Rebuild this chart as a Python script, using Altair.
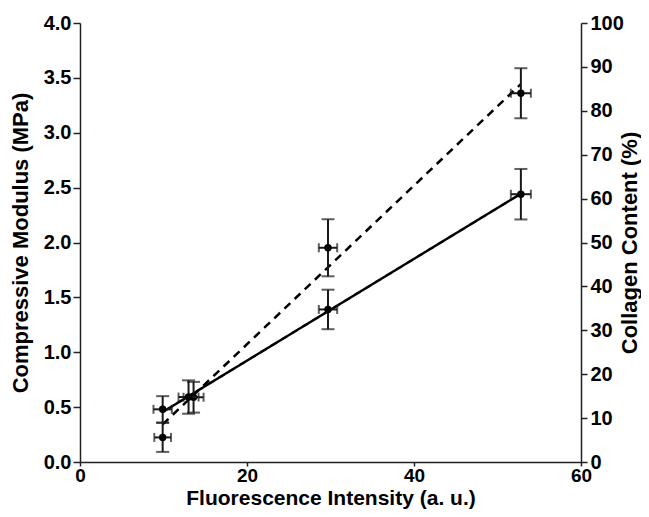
import altair as alt
import pandas as pd

# Compressive modulus series (solid line, left axis)
fluor_mod = [9.9, 13.6, 29.7, 52.8]
fluor_mod_err = [1.1, 1.2, 1.1, 1.2]
modulus = [0.48, 0.59, 1.39, 2.44]
modulus_err = [0.12, 0.14, 0.18, 0.23]

# Collagen content series (dashed line, right axis)
fluor_col = [9.9, 13.0, 29.7, 52.8]
fluor_col_err = [1.0, 1.2, 1.1, 1.2]
collagen = [5.6, 14.8, 48.8, 84.0]
collagen_err = [3.3, 3.8, 6.5, 5.7]

x_ticks = [0, 20, 40, 60]
left_ticks = [0.0, 0.5, 1.0, 1.5, 2.0, 2.5, 3.0, 3.5, 4.0]
right_ticks = [0, 10, 20, 30, 40, 50, 60, 70, 80, 90, 100]


def make_df(x, xe, y, ye):
    df = pd.DataFrame({"x": x, "xerr": xe, "y": y, "yerr": ye})
    df["xlo"] = df["x"] - df["xerr"]
    df["xhi"] = df["x"] + df["xerr"]
    df["ylo"] = df["y"] - df["yerr"]
    df["yhi"] = df["y"] + df["yerr"]
    return df


mod_df = make_df(fluor_mod, fluor_mod_err, modulus, modulus_err)
col_df = make_df(fluor_col, fluor_col_err, collagen, collagen_err)

x_scale = alt.Scale(domain=[0, 60], nice=False, zero=False)
x_axis = alt.Axis(values=x_ticks, title="Fluorescence Intensity (a. u.)", tickSize=4,
                  labelPadding=0, labelFontSize=19, format="d", titleBaseline="alphabetic",
                  titleY=42.5, titleFontSize=21)


def group(df, y_scale, y_axis, ytitle, dash):
    base = alt.Chart(df)
    X = alt.X("x:Q", scale=x_scale, axis=x_axis)
    Y = alt.Y("y:Q", scale=y_scale, axis=y_axis, title=ytitle)
    line = base.transform_regression("x", "y").mark_line(
        color="black", strokeWidth=2.5, strokeDash=dash
    ).encode(x=X, y=Y)
    vbar = base.mark_rule(color="#1a1a1a", strokeWidth=2).encode(
        x=alt.X("x:Q", scale=x_scale, axis=x_axis),
        y=alt.Y("ylo:Q", scale=y_scale, axis=y_axis, title=ytitle),
        y2="yhi:Q",
    )
    hbar = base.mark_rule(color="#1a1a1a", strokeWidth=2).encode(
        x=alt.X("xlo:Q", scale=x_scale, axis=x_axis),
        x2="xhi:Q",
        y=alt.Y("y:Q", scale=y_scale, axis=y_axis, title=ytitle),
    )
    caps = []
    for f in ["ylo", "yhi"]:
        caps.append(base.mark_tick(orient="horizontal", size=13, thickness=2, color="#1a1a1a").encode(
            x=alt.X("x:Q", scale=x_scale, axis=x_axis),
            y=alt.Y(f + ":Q", scale=y_scale, axis=y_axis, title=ytitle),
        ))
    for f in ["xlo", "xhi"]:
        caps.append(base.mark_tick(orient="vertical", size=9, thickness=2, color="#1a1a1a").encode(
            x=alt.X(f + ":Q", scale=x_scale, axis=x_axis),
            y=alt.Y("y:Q", scale=y_scale, axis=y_axis, title=ytitle),
        ))
    pts = base.mark_point(filled=True, shape="circle", size=55, color="black", opacity=1).encode(
        x=X, y=Y
    )
    return alt.layer(line, vbar, hbar, *caps, pts)


left_axis = alt.Axis(orient="left", values=left_ticks, format=".1f", tickSize=7,
                     labelPadding=2, titlePadding=11)
right_axis = alt.Axis(orient="right", values=right_ticks, format="d", tickSize=6,
                      labelPadding=3, titleAngle=270, titleBaseline="alphabetic", titleX=55)

mod_group = group(mod_df, alt.Scale(domain=[0, 4], nice=False, zero=False), left_axis,
                  "Compressive Modulus (MPa)", [1, 0])
col_group = group(col_df, alt.Scale(domain=[0, 100], nice=False, zero=False), right_axis,
                  "Collagen Content (%)", [8, 6])

chart = alt.layer(mod_group, col_group).resolve_scale(y="independent").properties(
    width=501, height=439,
    autosize=alt.AutoSizeParams(type="none"),
    padding={"left": 72, "top": 15, "right": 60, "bottom": 47},
).configure_axis(
    grid=False,
    domainColor="#222", domainWidth=1.5,
    tickColor="#222", tickWidth=1.5,
    labelFont="Liberation Sans", labelFontWeight="bold", labelFontSize=20, labelColor="black",
    titleFont="Liberation Sans", titleFontWeight="bold", titleFontSize=22, titleColor="black",
    labelFlush=False, labelOverlap=False,
).configure_view(stroke=None)

chart.save("out.html", embed_options={"renderer": "svg", "actions": False})
